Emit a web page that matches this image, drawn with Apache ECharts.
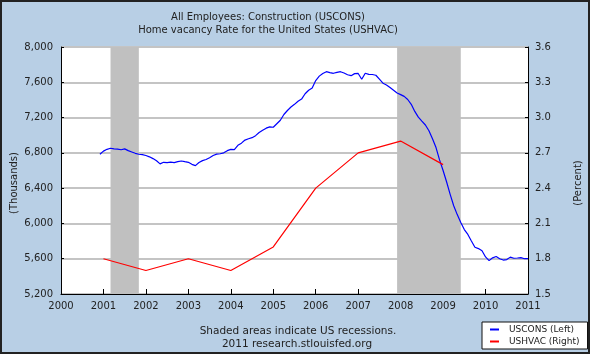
<!DOCTYPE html>
<html><head><meta charset="utf-8">
<script src="https://cdn.jsdelivr.net/npm/echarts@6/dist/echarts.min.js"></script>
<style>html,body{margin:0;padding:0;background:#b8cfe5}#c{width:590px;height:354px}</style>
</head><body><div id="c"></div>
<script>
// Monthly USCONS (thousands), Dec 2000 .. Jan 2011
const consStart = [2000, 12];
const consValues = [
  6784,
  6820,6840,6852,6845,6843,6835,6845,6825,6810,6795,6784,6780,
  6770,6755,6735,6710,6675,6693,6690,6695,6690,6700,6708,6700,
  6693,6670,6655,6690,6712,6725,6745,6770,6785,6790,6800,6825,
  6840,6836,6885,6910,6945,6960,6972,6995,7030,7055,7080,7095,
  7090,7130,7170,7235,7280,7320,7350,7385,7410,7470,7510,7535,
  7620,7670,7700,7720,7710,7702,7712,7720,7705,7685,7675,7698,
  7700,7634,7702,7690,7688,7680,7635,7590,7570,7540,7510,7478,
  7460,7440,7405,7350,7270,7205,7160,7116,7050,6960,6860,6720,
  6600,6470,6330,6200,6100,6010,5930,5875,5800,5730,5715,5690,
  5620,5578,5610,5625,5600,5585,5590,5618,5605,5608,5612,5600,
  5600
];
// Annual USHVAC (percent)
const vacYears = [2001,2002,2003,2004,2005,2006,2007,2008,2009];
const vacValues = [1.8,1.7,1.8,1.7,1.9,2.4,2.7,2.8,2.6];
// Recessions [start, end] as [year, month]
const recessions = [[[2001,3],[2001,11]],[[2007,12],[2009,6]]];
const yearTicks = [2000,2001,2002,2003,2004,2005,2006,2007,2008,2009,2010,2011];

const toX = (y,m) => y + (m-1)/12;
const consData = consValues.map((v,i) => {
  const mi = consStart[1]-1+i;
  return [toX(consStart[0]+Math.floor(mi/12), (mi%12)+1), v];
});
const vacData = vacYears.map((y,i) => [y, vacValues[i]]);
const recAreas = recessions.map(r => [{xAxis: toX(r[0][0],r[0][1])},{xAxis: toX(r[1][0],r[1][1])}]);

const FONT = 'DejaVu Sans';
const TXT = '#222';
const chart = echarts.init(document.getElementById('c'), null, {renderer:'canvas'});
chart.setOption({
  backgroundColor: '#b8cfe5',
  animation: false,
  textStyle: {fontFamily: FONT},
  title: {
    text: 'All Employees: Construction (USCONS)\nHome vacancy Rate for the United States (USHVAC)',
    left: 263, top: 6, textAlign: 'center',
    textStyle: {fontFamily: FONT, fontSize: 10, fontWeight: 'normal', color: TXT, lineHeight: 13}
  },
  grid: {left: 61, right: 62, top: 47, bottom: 60, show: true, backgroundColor: '#fff', borderWidth: 0,
         containLabel: false, outerBoundsMode: 'none'},
  legend: {
    data: [{name:'USCONS (Left)'},{name:'USHVAC (Right)'}],
    orient: 'vertical', left: 482, top: 322,
    backgroundColor: '#fff', borderColor: '#111', borderWidth: 1,
    padding: [3, 8, 3, 8], itemGap: 3, itemWidth: 9, itemHeight: 2, icon: 'rect',
    textStyle: {fontFamily: FONT, fontSize: 9, color: TXT, padding: [0,0,0,5]}
  },
  xAxis: {
    type: 'value', min: 2000, max: 2011, interval: 1,
    axisLine: {show: true, lineStyle: {color: '#000', width: 1}},
    axisTick: {show: true, inside: true, length: 5, lineStyle: {color: '#000'}},
    axisLabel: {fontFamily: FONT, fontSize: 10, color: TXT, margin: 7,
      formatter: v => yearTicks.includes(Math.round(v)) ? String(Math.round(v)) : ''},
    splitLine: {show: false}
  },
  yAxis: [{
    type: 'value', min: 5200, max: 8000, interval: 400, position: 'left',
    axisLine: {show: true, lineStyle: {color: '#000', width: 1}},
    axisTick: {show: true, inside: true, length: 3, lineStyle: {color: '#000'}},
    axisLabel: {fontFamily: FONT, fontSize: 10, color: TXT, margin: 8,
      formatter: v => v.toLocaleString('en-US')},
    splitLine: {show: true, lineStyle: {color: '#c4c4c4', width: 2},
      interval: (i, v) => v !== 8000 && v !== 5200}
  },{
    type: 'value', min: 1.5, max: 3.6, interval: 0.3, position: 'right',
    axisLine: {show: true, lineStyle: {color: '#000', width: 1}},
    axisTick: {show: true, inside: true, length: 3, lineStyle: {color: '#000'}},
    axisLabel: {fontFamily: FONT, fontSize: 10, color: TXT, margin: 7,
      formatter: v => v.toFixed(1)},
    splitLine: {show: false}
  }],
  series: [{
    name: 'recessions', type: 'line', data: [], z: 1,
    markArea: {silent: true, itemStyle: {color: '#c0c0c0', opacity: 1}, data: recAreas}
  },{
    name: 'USCONS (Left)', type: 'line', yAxisIndex: 0, data: consData, z: 3,
    showSymbol: false, color: '#0000ff', lineStyle: {width: 1.2, color: '#0000ff'}
  },{
    name: 'USHVAC (Right)', type: 'line', yAxisIndex: 1, data: vacData, z: 3,
    showSymbol: false, color: '#ff0000', lineStyle: {width: 1.2, color: '#ff0000'}
  }],
  graphic: [
    {type: 'text', x: 14, y: 183, rotation: Math.PI/2,
     style: {text: '(Thousands)', font: '10px "DejaVu Sans"', fill: TXT, align: 'center', verticalAlign: 'middle'}},
    {type: 'text', x: 578, y: 183, rotation: Math.PI/2,
     style: {text: '(Percent)', font: '10px "DejaVu Sans"', fill: TXT, align: 'center', verticalAlign: 'middle'}},
    {type: 'text', x: 298, y: 331,
     style: {text: 'Shaded areas indicate US recessions.', font: '10.5px "DejaVu Sans"', fill: TXT, align: 'center', verticalAlign: 'middle'}},
    {type: 'text', x: 297, y: 344,
     style: {text: '2011 research.stlouisfed.org', font: '10.5px "DejaVu Sans"', fill: TXT, align: 'center', verticalAlign: 'middle'}},
    {type: 'rect', shape: {x: 1, y: 1, width: 588, height: 352}, style: {fill: null, stroke: '#222', lineWidth: 2}, z: 100}
  ]
});
</script></body></html>
